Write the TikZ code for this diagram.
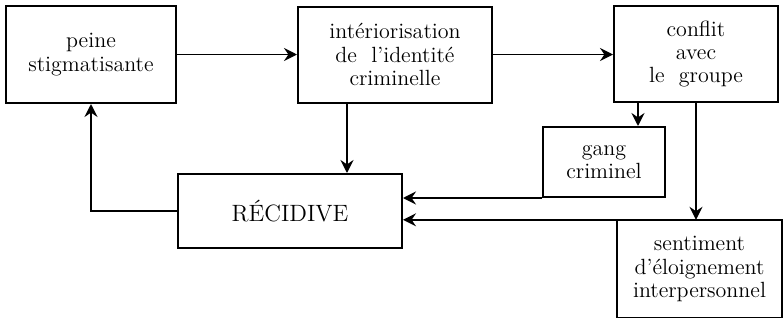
\documentclass[tikz,border=0pt]{standalone}
\usepackage{tikz}
\usetikzlibrary{arrows.meta}

\tikzset{
	boite/.style={draw,line width=1pt,align=center,inner sep=0pt,font=\fontsize{11}{11.6}\selectfont},
	fleche/.style={line width=0.9pt,-{Stealth[length=6.5pt,width=6.5pt,inset=2.2pt]}},
	fin/.style={line width=0.6pt,-{Stealth[length=6.5pt,width=6.5pt,inset=2.2pt]}}
}

\begin{document}
\begin{tikzpicture}[x=0.5pt,y=-0.5pt]
						\useasboundingbox (0,0) rectangle (784,322);
						
						\node[boite,minimum width=85pt,minimum height=48.5pt] (peine) at (91,54.5) {peine\\stigmatisante};
						\node[boite,minimum width=97pt,minimum height=48pt] (inter) at (395,54.5) {intériorisation\\de\ \ l'identité\\criminelle};
						\node[boite,minimum width=82pt,minimum height=48pt] (conflit) at (696,54) {conflit\\avec\\le\ \ groupe};
						\node[boite,minimum width=61pt,minimum height=35pt] (gang) at (604,162) {gang\\criminel};
						\node[boite,minimum width=112pt,minimum height=37pt,font=\fontsize{11.8}{13}\selectfont] (recid) at (290,211) {RÉCIDIVE};
						\node[boite,line width=0.7pt,minimum width=82.5pt,minimum height=48.5pt] (sent) at (699.5,269) {sentiment\\d'éloignement\\interpersonnel};
						
						\coordinate (i1) at (347,102);
						\coordinate (c1) at (638,102);
						
						\draw[fleche] (peine.east) - - (inter.west);
						\draw[fin] (inter.east) - - (conflit.west |- inter.east);
						\draw[fleche] (i1) - - (i1 |- recid.north);
						\draw[fleche] (c1) - - (c1 |- gang.north);
						\draw[fin] (conflit.south) - - (conflit.south |- sent.north);
						\draw[fleche] (gang.south west) - - (recid.east |- gang.south west);
						\draw[fleche] (sent.north east) - - (recid.east |- sent.north east);
						\draw[fleche] (recid.west) -| (peine.south);
					\end{tikzpicture}
\end{document}
